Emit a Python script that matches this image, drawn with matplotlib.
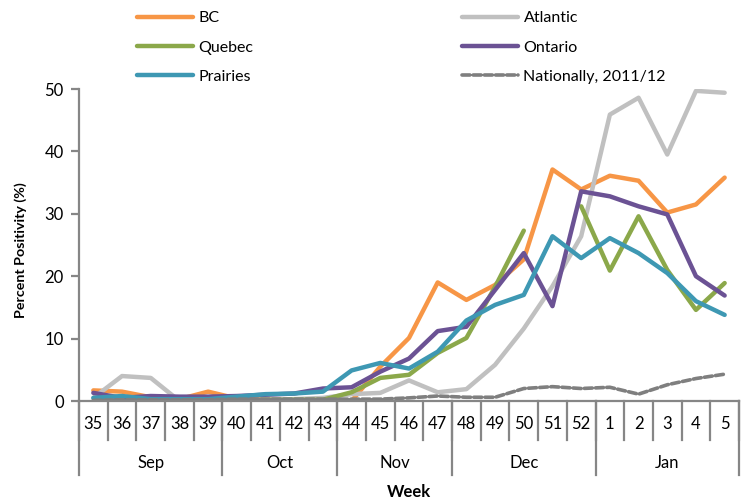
import numpy as np
import matplotlib.pyplot as plt
import matplotlib.transforms as mtransforms

plt.rcParams['font.family'] = ['Lato', 'DejaVu Sans']

weeks = ['35', '36', '37', '38', '39', '40', '41', '42', '43', '44', '45', '46',
         '47', '48', '49', '50', '51', '52', '1', '2', '3', '4', '5']
months = ['Sep', 'Oct', 'Nov', 'Dec', 'Jan']
weeks_per_month = [5, 4, 4, 5, 5]

bc = [1.7, 1.5, 0.6, 0.3, 1.5, 0.4, 0.2, 0.1, 0.0, 0.0, 5.5, 10.1, 19.0, 16.2,
      18.6, 22.7, 37.1, 33.9, 36.1, 35.3, 30.2, 31.5, 35.8]
atlantic = [0.5, 4.0, 3.7, 0.0, 0.0, 0.1, 0.2, 0.3, 0.5, 1.1, 1.3, 3.3, 1.4, 1.9,
            5.8, 11.6, 18.4, 26.4, 45.9, 48.6, 39.5, 49.7, 49.4]
quebec = [0.0, 0.0, 0.0, 0.0, 0.0, 0.1, 0.2, 0.2, 0.2, 1.4, 3.7, 4.2, 7.7, 10.1,
          18.3, 27.3, np.nan, 31.2, 20.9, 29.6, 21.0, 14.6, 18.9]
ontario = [1.3, 0.5, 0.8, 0.7, 0.7, 0.8, 1.0, 1.2, 2.0, 2.2, 4.7, 6.8, 11.2, 11.9,
           17.8, 23.7, 15.2, 33.6, 32.8, 31.2, 29.9, 20.0, 16.9]
prairies = [0.5, 0.8, 0.3, 0.3, 0.3, 0.7, 1.1, 1.2, 1.5, 4.9, 6.1, 5.2, 7.9, 12.9,
            15.4, 17.0, 26.4, 22.9, 26.1, 23.7, 20.5, 16.0, 13.8]
national = [0.1, 0.2, 0.2, 0.2, 0.2, 0.3, 0.3, 0.3, 0.3, 0.3, 0.3, 0.5, 0.8, 0.6,
            0.6, 2.0, 2.3, 2.0, 2.2, 1.1, 2.6, 3.6, 4.3]

axis_grey = '#868686'

fig = plt.figure(figsize=(7.48, 5.01), dpi=100)
ax = fig.add_axes([79 / 748, 1 - 401 / 501, 660 / 748, 312 / 501])

x = np.arange(len(weeks))
lw = 3.2
l_bc, = ax.plot(x, bc, color='#F79646', lw=lw, label='BC')
l_at, = ax.plot(x, atlantic, color='#C0C0C0', lw=lw, label='Atlantic')
l_qc, = ax.plot(x, quebec, color='#8BA84A', lw=lw, label='Quebec')
l_on, = ax.plot(x, ontario, color='#6B5294', lw=lw, label='Ontario')
l_pr, = ax.plot(x, prairies, color='#3E98B3', lw=lw, label='Prairies')
l_na, = ax.plot(x, national, color='#7F7F7F', lw=2.6, ls=(0, (2.2, 0.9)),
                dash_capstyle='round', label='Nationally, 2011/12')

ax.set_xlim(-0.5, len(weeks) - 0.5)
ax.set_ylim(0, 50)
ax.set_yticks(range(0, 51, 10))
ax.set_xticks([])
for s in ['top', 'right']:
    ax.spines[s].set_visible(False)
for s in ['left', 'bottom']:
    ax.spines[s].set_color(axis_grey)
    ax.spines[s].set_linewidth(1.6)
ax.tick_params(axis='y', direction='out', length=6, width=1.6, color=axis_grey,
               labelsize=12, pad=5)
ax.set_ylabel('Percent Positivity (%)', fontsize=10.3, fontweight='bold')
ax.yaxis.set_label_coords(-0.079, 0.484)

# two-level category axis, drawn by hand
trans = mtransforms.blended_transform_factory(ax.transData, ax.transAxes)
for b in np.arange(-0.5, len(weeks)):
    ax.plot([b, b], [0, -0.125], transform=trans, color=axis_grey, lw=1.6,
            clip_on=False)
for i, w in enumerate(weeks):
    ax.text(i, -0.074, w, transform=trans, ha='center', va='center', fontsize=12)

start = -0.5
bounds = [start]
for n, m in zip(weeks_per_month, months):
    end = start + n
    ax.text((start + end) / 2, -0.199, m, transform=trans, ha='center',
            va='center', fontsize=12)
    bounds.append(end)
    start = end
for b in bounds:
    ax.plot([b, b], [0, -0.237], transform=trans, color=axis_grey, lw=1.6,
            clip_on=False)
ax.text(0.5, -0.292, 'Week', transform=ax.transAxes, ha='center', va='center',
        fontsize=12, fontweight='bold')

# legend, two columns placed separately
leg_kw = dict(loc='upper left', frameon=False, fontsize=11.5, handlelength=3.5,
              handletextpad=0.35, labelspacing=0.95, borderpad=0, borderaxespad=0)
for h in [l_bc, l_qc, l_pr, l_at, l_on, l_na]:
    h.set_solid_capstyle('round')
fig.legend([l_bc, l_qc, l_pr], ['BC', 'Quebec', 'Prairies'],
           bbox_to_anchor=(137 / 748, 1 - 11 / 501), **leg_kw)
fig.legend([l_at, l_on, l_na], ['Atlantic', 'Ontario', 'Nationally, 2011/12'],
           bbox_to_anchor=(462 / 748, 1 - 11 / 501), **leg_kw)

fig.savefig('out.png', dpi=100)
